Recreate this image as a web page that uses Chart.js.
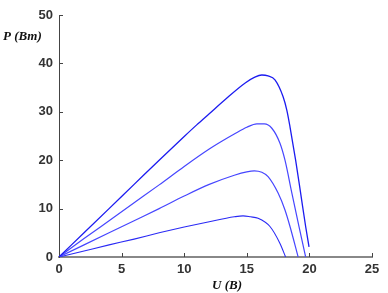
<!DOCTYPE html>
<html>
<head>
<meta charset="utf-8">
<script src="https://cdn.jsdelivr.net/npm/chart.js@4.4.1/dist/chart.umd.min.js"></script>
<style>
  html, body { margin: 0; padding: 0; background: #fff; }
  #wrap { width: 388px; height: 293px; }
</style>
</head>
<body>
<div id="wrap"><canvas id="pv"></canvas></div>
<script>
// P-U curves, four irradiance levels
const u1000 = [0, 2, 4, 6, 8, 10, 11, 12, 13.3, 14.9, 15.6, 16.2, 16.7, 17.25, 17.9, 18.2, 18.45, 18.9, 19.3, 19.7, 19.97];
const p1000 = [0, 5, 10, 15, 20, 24.9, 27.3, 29.6, 32.6, 36.0, 37.1, 37.6, 37.4, 36.6, 33.1, 30.3, 26.9, 20, 13.2, 6.3, 2.1];

const u750 = [0, 2, 4, 6, 8, 10, 12, 13, 14, 15, 15.8, 16.4, 17, 17.65, 18.05, 18.6, 19.17, 19.7];
const p750 = [0, 3.8, 7.5, 11.2, 14.9, 18.7, 22.3, 23.9, 25.4, 26.8, 27.5, 27.5, 26.6, 23.5, 20, 13.2, 6.3, 0];

const u500 = [0, 2, 4, 6, 8, 10, 12, 14, 15, 15.6, 16.2, 16.7, 17.5, 18.05, 18.45, 19.1];
const p500 = [0, 2.5, 5, 7.5, 10, 12.6, 15, 16.9, 17.6, 17.8, 17.5, 16.6, 13.2, 9.7, 6.3, 0];

const u250 = [0, 2, 4, 6, 8, 10, 12, 14, 14.7, 15.3, 15.9, 16.85, 17.65, 18.1];
const p250 = [0, 1.25, 2.5, 3.7, 5, 6.2, 7.3, 8.3, 8.5, 8.3, 8.0, 6.3, 2.8, 0];

const xTicks = [0, 5, 10, 15, 20, 25];
const yTicks = [0, 10, 20, 30, 40, 50];

function toPoints(us, ps) {
    return us.map((u, i) => ({ x: u, y: ps[i] }));
}

// --- inward tick marks + axis captions ---
const axisDecor = {
    id: 'axisDecor',
    afterDraw(chart) {
        const ctx = chart.ctx;
        const xs = chart.scales.x;
        const ys = chart.scales.y;
        const area = chart.chartArea;
        ctx.save();
        ctx.strokeStyle = '#444';
        ctx.lineWidth = 1;
        xTicks.forEach(v => {
            if (v === 0) return;
            const px = Math.round(xs.getPixelForValue(v)) + 0.5;
            ctx.beginPath();
            ctx.moveTo(px, area.bottom);
            ctx.lineTo(px, area.bottom - 4);
            ctx.stroke();
        });
        yTicks.forEach(v => {
            if (v === 0) return;
            const py = Math.round(ys.getPixelForValue(v)) + 0.5;
            ctx.beginPath();
            ctx.moveTo(area.left, py);
            ctx.lineTo(area.left + 4, py);
            ctx.stroke();
        });

        ctx.fillStyle = '#111';
        ctx.font = 'italic bold 13px "Liberation Serif", serif';
        ctx.textBaseline = 'alphabetic';
        ctx.textAlign = 'left';
        ctx.fillText('P (Вт)', 3, 40);
        ctx.textAlign = 'center';
        ctx.fillText('U (В)', 227, 289);
        ctx.restore();
    }
};

const lineColor = '#4646ff';

new Chart(document.getElementById('pv'), {
    type: 'scatter',
    data: {
        datasets: [
            { data: toPoints(u1000, p1000), borderColor: '#1c1cf0', borderWidth: 1.3 },
            { data: toPoints(u750, p750), borderColor: lineColor, borderWidth: 1.2 },
            { data: toPoints(u500, p500), borderColor: lineColor, borderWidth: 1.2 },
            { data: toPoints(u250, p250), borderColor: '#2a2af5', borderWidth: 1.1 }
        ].map(d => Object.assign(d, {
            showLine: true,
            pointRadius: 0,
            pointHoverRadius: 0,
            cubicInterpolationMode: 'monotone',
            fill: false
        }))
    },
    options: {
        responsive: true,
        maintainAspectRatio: false,
        animation: false,
        layout: { padding: { top: 15, right: 16, left: 0, bottom: 0 } },
        plugins: { legend: { display: false }, tooltip: { enabled: false } },
        scales: {
            x: {
                type: 'linear',
                min: 0, max: 25,
                afterBuildTicks: s => { s.ticks = xTicks.map(v => ({ value: v })); },
                afterFit: s => { s.height = 36; },
                grid: { display: false, drawTicks: false },
                border: { display: true, color: '#888', width: 2 },
                ticks: {
                    padding: 5,
                    color: '#333',
                    font: { family: '"Liberation Sans", Arial, sans-serif', size: 13, weight: 'bold' }
                }
            },
            y: {
                type: 'linear',
                min: 0, max: 50,
                afterBuildTicks: s => { s.ticks = yTicks.map(v => ({ value: v })); },
                afterFit: s => { s.width = 59; },
                grid: { display: false, drawTicks: false },
                border: { display: true, color: '#444', width: 1 },
                ticks: {
                    padding: 6,
                    color: '#333',
                    font: { family: '"Liberation Sans", Arial, sans-serif', size: 13, weight: 'bold' }
                }
            }
        }
    },
    plugins: [axisDecor]
});
</script>
</body>
</html>
